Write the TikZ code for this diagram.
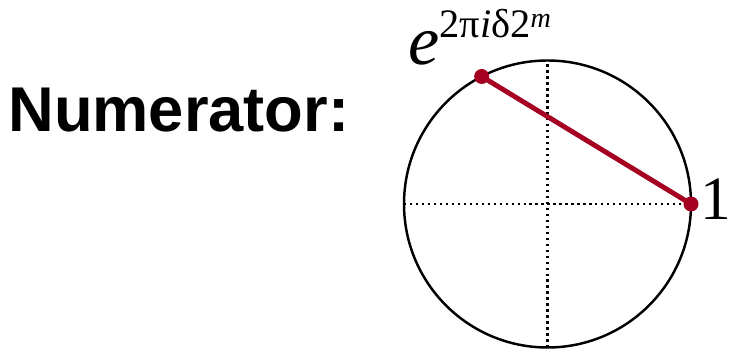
\documentclass[tikz,border=0pt]{standalone}
\usepackage{fontspec}
\setmainfont{Liberation Serif}
\setsansfont{Liberation Sans}
\usepackage{xcolor}
\usepackage{tikz}
\usetikzlibrary{positioning}
\definecolor{darkred}{RGB}{165,0,33}

\begin{document}
\begin{tikzpicture}[
  ring/.style={draw, line width=1.4pt},
  axis/.style={line width=1.4pt, dash pattern=on 1.3pt off 2.1pt},
  chord/.style={draw=darkred, line width=2.8pt},
  pt/.style={circle, fill=darkred, inner sep=0pt, minimum size=0.3cm},
  lbl/.style={inner sep=0pt, anchor=base west}
]
\useasboundingbox (0,0) rectangle (14.62,6.96);

\node[lbl, font=\sffamily\bfseries\fontsize{36}{36}\selectfont] (title) at (0.16,4.32)
  {Numerator:};

\begin{scope}[shift={(10.95,2.88)}]
  \coordinate (O) at (0,0);
  \draw[ring] (O) circle (2.87);
  \draw[axis] (-2.87,0) -- (2.87,0);
  \draw[axis] (0,-2.87) -- (0,2.87);
  \node[pt] (one) at (0:2.87) {};
  \node[pt] (phase) at (117.3:2.87) {};
\end{scope}

\draw[chord] (phase.center) -- (one.center);

\node[lbl, font=\fontsize{35}{35}\selectfont] (onelbl) at (14.0,2.56) {1};
\node[lbl, font=\fontsize{40}{40}\selectfont] (elbl) at (8.16,5.66)
  {\textit{e}\raisebox{15.9pt}{\fontsize{23}{23}\selectfont 2π\textit{i}δ2\raisebox{5.5pt}{\fontsize{16}{16}\selectfont\textit{m}}}};

\end{tikzpicture}
\end{document}
